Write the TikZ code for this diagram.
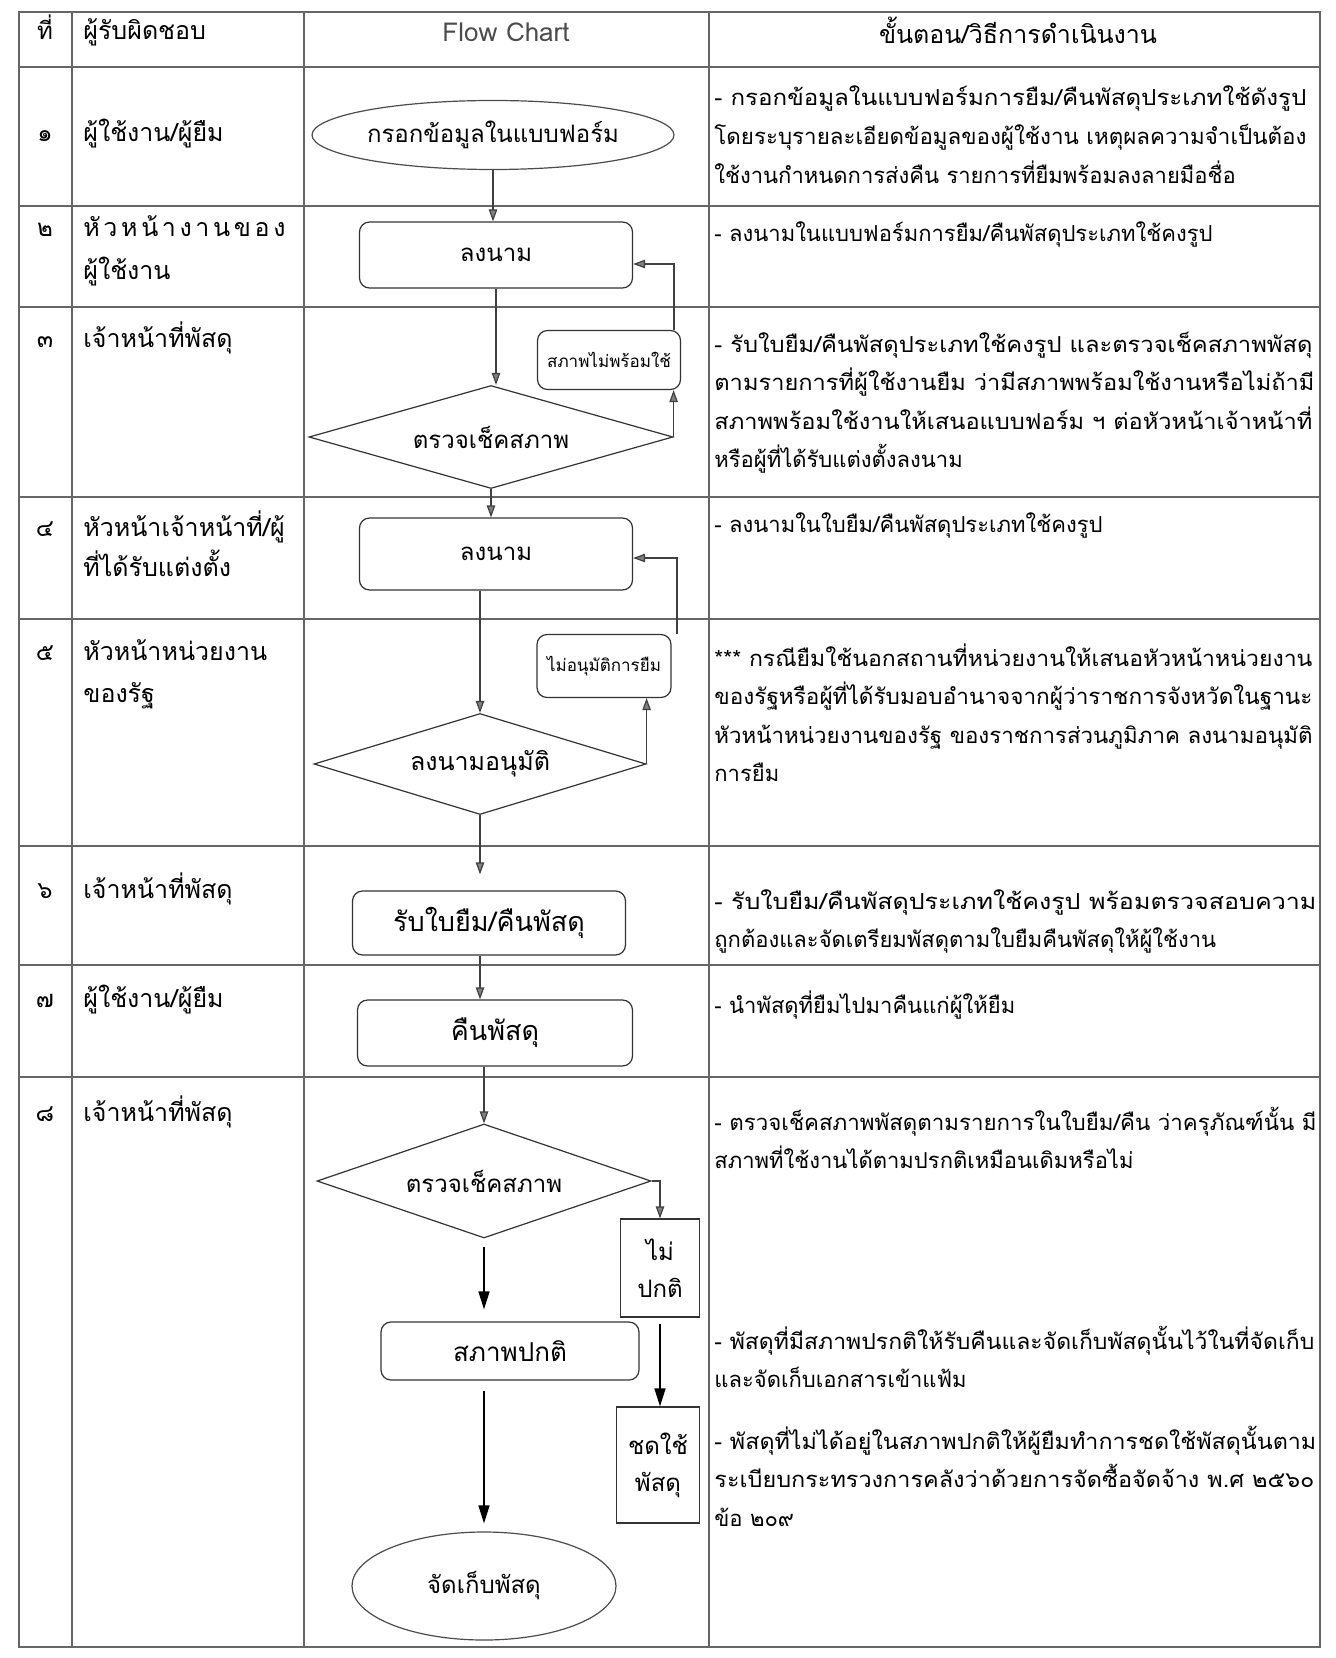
\documentclass[tikz,border=0pt]{standalone}
\usepackage{fontspec}
\usepackage{graphicx}
\setmainfont[Script=Thai]{Loma}
\usetikzlibrary{shapes.geometric,arrows.meta,calc}
\newcommand\dl[1]{\begin{tabular}[t]{@{}l@{}}#1\end{tabular}}
\newcommand\jl[2][298pt]{\resizebox{#1}{\height}{#2}}
\begin{document}
\begin{tikzpicture}[x=0.5pt,y=-0.5pt,
  grid/.style={draw=black!60,line width=0.55pt},
  proc/.style={draw=black!80,line width=0.6pt,rounded corners=5pt,align=center,inner sep=0pt,font=\fontsize{12}{14}\selectfont},
  sqbox/.style={draw=black!80,line width=0.6pt,align=center,inner sep=0pt,font=\fontsize{12}{18.5}\selectfont},
  term/.style={ellipse,draw=black!70,line width=0.6pt,inner sep=0pt,align=center,font=\fontsize{12}{14}\selectfont},
  dec/.style={diamond,draw=black!80,line width=0.6pt,inner sep=0pt,aspect=3,align=center,font=\fontsize{12}{14}\selectfont},
  conn/.style={draw=black!75,line width=0.6pt,-{Triangle[length=6pt,width=4.2pt,fill=black!50]}},
  bconn/.style={draw=black,line width=0.7pt,-{Triangle[length=9pt,width=5.5pt]}},
  numtxt/.style={anchor=base,inner sep=0pt,font=\fontsize{12}{14}\selectfont},
  roletxt/.style={anchor=base west,inner sep=0pt,font=\fontsize{12.5}{15}\selectfont},
  desc/.style={anchor=base west,inner sep=0pt,font=\fontsize{11}{19.3}\selectfont}
]
\useasboundingbox (0,0) rectangle (1336,1658);
\fill[white] (0,0) rectangle (1336,1658);

% ---- table grid ----
\draw[grid] (19,12) rectangle (1320,1647);
\draw[grid] (72,12) -- (72,1647);
\draw[grid] (304,12) -- (304,1647);
\draw[grid] (709,12) -- (709,1647);
\foreach \yy in {67,206,307,497,619,846,965,1077}
  \draw[grid] (19,\yy) -- (1320,\yy);

% ---- header ----
\node[numtxt] (h1) at (45,40) {ที่};
\node[roletxt] (h2) at (83,40) {ผู้รับผิดชอบ};
\node[anchor=base,inner sep=0pt,text=black!70,font=\fontsize{13}{15}\selectfont] (h3) at (506,42) {Flow Chart};
\node[anchor=base,inner sep=0pt,font=\fontsize{12.5}{15}\selectfont] (h4) at (1018,44) {ขั้นตอน/วิธีการดำเนินงาน};

% ---- column 1 and 2 ----
\node[numtxt] (n1) at (45,142) {๑};
\node[roletxt] (r1) at (83,142) {ผู้ใช้งาน/ผู้ยืม};
\node[numtxt] (n2) at (45,237) {๒};
\node[roletxt] (r2a) at (83,237) {\makebox[101pt][s]{หั\hfill ว\hfill ห\hfill น้\hfill า\hfill ง\hfill า\hfill น\hfill ข\hfill อ\hfill ง}};
\node[roletxt] (r2b) at (83,280) {ผู้ใช้งาน};
\node[numtxt] (n3) at (45,348) {๓};
\node[roletxt] (r3) at (83,348) {เจ้าหน้าที่พัสดุ};
\node[numtxt] (n4) at (45,536) {๔};
\node[roletxt] (r4a) at (83,536) {หัวหน้าเจ้าหน้าที่/ผู้};
\node[roletxt] (r4b) at (83,576) {ที่ได้รับแต่งตั้ง};
\node[numtxt] (n5) at (45,660) {๕};
\node[roletxt] (r5a) at (83,660) {หัวหน้าหน่วยงาน};
\node[roletxt] (r5b) at (83,702) {ของรัฐ};
\node[numtxt] (n6) at (45,898) {๖};
\node[roletxt] (r6) at (83,898) {เจ้าหน้าที่พัสดุ};
\node[numtxt] (n7) at (45,1007) {๗};
\node[roletxt] (r7) at (83,1007) {ผู้ใช้งาน/ผู้ยืม};
\node[numtxt] (n8) at (45,1121) {๘};
\node[roletxt] (r8) at (83,1121) {เจ้าหน้าที่พัสดุ};

% ---- column 4 descriptions ----
\node[desc] (d1t) at (714,106) {\dl{\jl[296pt]{- กรอกข้อมูลในแบบฟอร์มการยืม/คืนพัสดุประเภทใช้ดังรูป}\\\jl[296pt]{โดยระบุรายละเอียดข้อมูลของผู้ใช้งาน เหตุผลความจำเป็นต้อง}\\ใช้งานกำหนดการส่งคืน รายการที่ยืมพร้อมลงลายมือชื่อ}};
\node[desc] (d2t) at (714,242) {- ลงนามในแบบฟอร์มการยืม/คืนพัสดุประเภทใช้คงรูป};
\node[desc] (d3t) at (714,352) {\dl{\jl[299pt]{- รับใบยืม/คืนพัสดุประเภทใช้คงรูป และตรวจเช็คสภาพพัสดุ}\\\jl[300pt]{ตามรายการที่ผู้ใช้งานยืม ว่ามีสภาพพร้อมใช้งานหรือไม่ถ้ามี}\\\jl[299pt]{สภาพพร้อมใช้งานให้เสนอแบบฟอร์ม ฯ ต่อหัวหน้าเจ้าหน้าที่}\\หรือผู้ที่ได้รับแต่งตั้งลงนาม}};
\node[desc] (d4t) at (714,532) {- ลงนามในใบยืม/คืนพัสดุประเภทใช้คงรูป};
\node[desc] (d5t) at (714,666) {\dl{\jl[299pt]{*** กรณียืมใช้นอกสถานที่หน่วยงานให้เสนอหัวหน้าหน่วยงาน}\\\jl[299pt]{ของรัฐหรือผู้ที่ได้รับมอบอำนาจจากผู้ว่าราชการจังหวัดในฐานะ}\\\jl[299pt]{หัวหน้าหน่วยงานของรัฐ ของราชการส่วนภูมิภาค ลงนามอนุมัติ}\\การยืม}};
\node[desc] (d6t) at (714,909) {\dl{\jl[301pt]{- รับใบยืม/คืนพัสดุประเภทใช้คงรูป พร้อมตรวจสอบความ}\\ถูกต้องและจัดเตรียมพัสดุตามใบยืมคืนพัสดุให้ผู้ใช้งาน}};
\node[desc] (d7t) at (714,1013) {- นำพัสดุที่ยืมไปมาคืนแก่ผู้ให้ยืม};
\node[desc] (d8t) at (714,1130) {\dl{\jl[301pt]{- ตรวจเช็คสภาพพัสดุตามรายการในใบยืม/คืน ว่าครุภัณฑ์นั้น มี}\\สภาพที่ใช้งานได้ตามปรกติเหมือนเดิมหรือไม่}};
\node[desc] (d8u) at (714,1349) {\dl{\jl[300pt]{- พัสดุที่มีสภาพปรกติให้รับคืนและจัดเก็บพัสดุนั้นไว้ในที่จัดเก็บ}\\และจัดเก็บเอกสารเข้าแฟ้ม}};
\node[desc] (d8v) at (714,1449) {\dl{\jl[301pt]{- พัสดุที่ไม่ได้อยู่ในสภาพปกติให้ผู้ยืมทำการชดใช้พัสดุนั้นตาม}\\\jl[300pt]{ระเบียบกระทรวงการคลังว่าด้วยการจัดซื้อจัดจ้าง พ.ศ ๒๕๖๐}\\ข้อ ๒๐๙}};

% ---- flow chart nodes ----
\node[term,minimum width=181pt,minimum height=34.5pt] (e1) at (493,135) {กรอกข้อมูลในแบบฟอร์ม};
\node[proc,minimum width=136.5pt,minimum height=33pt] (b2) at (496,255) {ลงนาม};
\node[proc,minimum width=71.5pt,minimum height=29.5pt,font=\fontsize{8.5}{10}\selectfont] (nr) at (609,360) {สภาพไม่พร้อมใช้};
\node[dec,minimum width=182pt,minimum height=51.5pt] (c1) at (491,437) {ตรวจเช็คสภาพ};
\node[proc,minimum width=136.5pt,minimum height=36pt] (b4) at (496,554) {ลงนาม};
\node[proc,minimum width=67pt,minimum height=31.5pt,font=\fontsize{8.5}{10}\selectfont] (na) at (604,666) {ไม่อนุมัติการยืม};
\node[dec,minimum width=166pt,minimum height=50.5pt,font=\fontsize{12.5}{14}\selectfont] (c2) at (480,764) {ลงนามอนุมัติ};
\node[proc,minimum width=136.5pt,minimum height=32pt,font=\fontsize{13.5}{15}\selectfont] (b6) at (489,923) {รับใบยืม/คืนพัสดุ};
\node[proc,minimum width=137.5pt,minimum height=33pt,font=\fontsize{13.5}{15}\selectfont] (b7) at (495,1033) {คืนพัสดุ};
\node[dec,minimum width=167pt,minimum height=57pt] (c3) at (484,1181) {ตรวจเช็คสภาพ};
\node[sqbox,minimum width=39.5pt,minimum height=49pt] (np) at (660,1268) {ไม่\\ปกติ};
\node[proc,minimum width=129pt,minimum height=29pt,font=\fontsize{13}{15}\selectfont] (sp) at (510,1351) {สภาพปกติ};
\node[sqbox,minimum width=41.5pt,minimum height=58pt] (cp) at (658,1465) {ชดใช้\\พัสดุ};
\node[term,minimum width=132pt,minimum height=54pt] (e2) at (484,1586) {จัดเก็บพัสดุ};

% ---- connectors ----
\coordinate (f1) at (674,264);
\coordinate (f2) at (677,558);
\draw[conn] (e1.south) -- (e1.south |- b2.north);
\draw[conn] (b2.south) -- (b2.south |- c1.north);
\draw[conn] (c1.east) -- (c1.east |- nr.south);
\draw[conn] (nr.north -| f1) -- (f1) -- (f1 -| b2.east);
\draw[conn] (c1.south) -- (c1.south |- b4.north);
\draw[conn] (c2.north |- b4.south) -- (c2.north);
\draw[conn] (c2.east) -- (c2.east |- na.south);
\draw[conn] (na.north -| f2) -- (f2) -- (f2 -| b4.east);
\draw[conn,shorten >=8pt] (c2.south) -- (c2.south |- b6.north);
\draw[conn] (b6.south -| c2.south) -- (b7.north -| c2.south);
\draw[conn] (b7.south -| c3.north) -- (c3.north);
\draw[bconn,shorten <=4pt,shorten >=6pt] (c3.south) -- (c3.south |- sp.north);
\draw[conn] (c3.east) -| (np.north);
\draw[bconn,shorten <=3pt] (np.south) -- (np.south |- cp.north);
\draw[bconn,shorten <=5pt,shorten >=4pt] (e2.north |- sp.south) -- (e2.north);
\end{tikzpicture}
\end{document}
